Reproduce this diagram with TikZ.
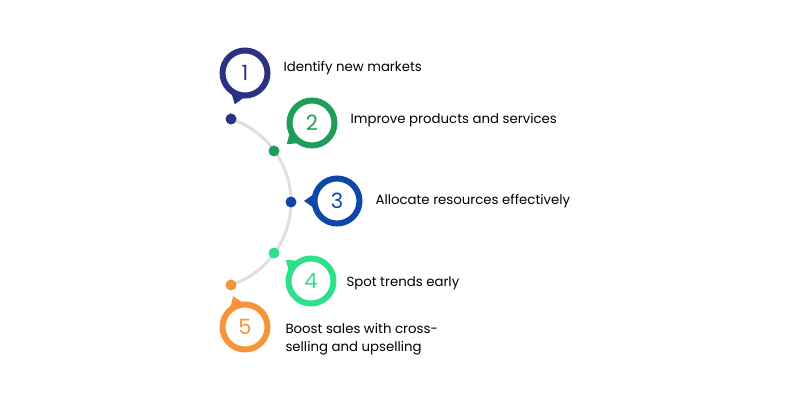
\documentclass[tikz,border=0pt]{standalone}
\usepackage{fontspec}
\setmainfont{Poppins}
\usetikzlibrary{calc}
\definecolor{cone}{HTML}{2B3183}
\definecolor{ctwo}{HTML}{1F9D5A}
\definecolor{cthree}{HTML}{0D47A8}
\definecolor{cfour}{HTML}{2EE08A}
\definecolor{cfive}{HTML}{F7943A}
\tikzset{
    ring/.style={circle, draw=#1, line width=6pt, minimum size=45pt, inner sep=0pt,
        text=#1, font=\fontsize{21}{21}\selectfont},
    dot/.style={circle, fill=#1, minimum size=11pt, inner sep=0pt},
    label/.style={anchor=west, align=left, font=\fontsize{13.3}{18}\selectfont},
}
\newcommand{\tail}[3]{%
    \fill[#3] ($(#1.center)+(#2-17:24)$) -- ($(#1.center)+(#2:33)$) -- ($(#1.center)+(#2+17:24)$) -- cycle;}
\begin{document}
\begin{tikzpicture}[x=1pt, y=-1pt]
    \useasboundingbox (0,0) rectangle (802,411);

    % track
    \draw[gray!25, line width=3pt] (203.6,202) ++(-71.7:87.4) arc[start angle=-71.7, end angle=71.7, radius=87.4];

    \node[dot=cone] (d1) at (231,119) {};
    \node[dot=ctwo] (d2) at (274,151) {};
    \node[dot=cthree] (d3) at (291,202) {};
    \node[dot=cfour] (d4) at (274,253) {};
    \node[dot=cfive] (d5) at (231,285) {};

    \node[ring=cone] (s1) at (245,73) {1};
    \node[ring=ctwo] (s2) at (312,123) {2};
    \node[ring=cthree] (s3) at (337,201) {3};
    \node[ring=cfour] (s4) at (311,281) {4};
    \node[ring=cfive] (s5) at (245,327) {5};

    \tail{s1}{108}{cone}
    \tail{s2}{140}{ctwo}
    \tail{s3}{180}{cthree}
    \tail{s4}{220}{cfour}
    \tail{s5}{249}{cfive}

    \node[label] (t1) at (280,68) {Identify new markets};
    \node[label] (t2) at (347,120) {Improve products and services};
    \node[label] (t3) at (372,201) {Allocate resources effectively};
    \node[label] (t4) at (343,283) {Spot trends early};
    \node[label] (t5) at (282,339) {Boost sales with cross-\\selling and upselling};
\end{tikzpicture}
\end{document}
